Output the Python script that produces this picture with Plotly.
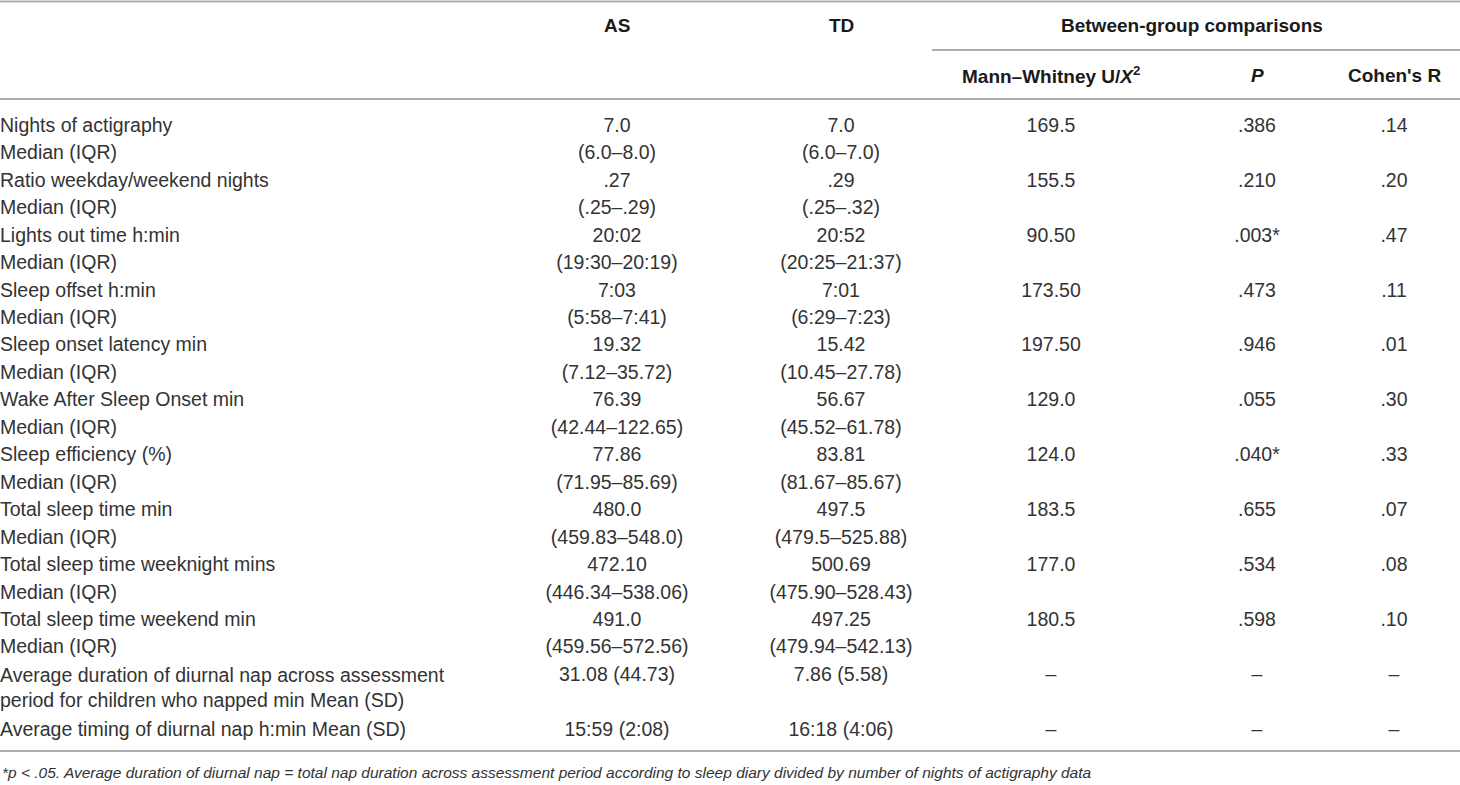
import plotly.graph_objects as go

# --- table content ---
row_labels = [
    "Nights of actigraphy", "Ratio weekday/weekend nights", "Lights out time h:min",
    "Sleep offset h:min", "Sleep onset latency min", "Wake After Sleep Onset min",
    "Sleep efficiency (%)", "Total sleep time min", "Total sleep time weeknight mins",
    "Total sleep time weekend min",
]
as_median = ["7.0", ".27", "20:02", "7:03", "19.32", "76.39", "77.86", "480.0", "472.10", "491.0"]
as_iqr = ["(6.0–8.0)", "(.25–.29)", "(19:30–20:19)", "(5:58–7:41)", "(7.12–35.72)",
          "(42.44–122.65)", "(71.95–85.69)", "(459.83–548.0)", "(446.34–538.06)", "(459.56–572.56)"]
td_median = ["7.0", ".29", "20:52", "7:01", "15.42", "56.67", "83.81", "497.5", "500.69", "497.25"]
td_iqr = ["(6.0–7.0)", "(.25–.32)", "(20:25–21:37)", "(6:29–7:23)", "(10.45–27.78)",
          "(45.52–61.78)", "(81.67–85.67)", "(479.5–525.88)", "(475.90–528.43)", "(479.94–542.13)"]
mw_u = ["169.5", "155.5", "90.50", "173.50", "197.50", "129.0", "124.0", "183.5", "177.0", "180.5"]
p_vals = [".386", ".210", ".003*", ".473", ".946", ".055", ".040*", ".655", ".534", ".598"]
cohen_r = [".14", ".20", ".47", ".11", ".01", ".30", ".33", ".07", ".08", ".10"]

nap_labels = ["Average duration of diurnal nap across assessment<br>period for children who napped min Mean (SD)",
              "Average timing of diurnal nap h:min Mean (SD)"]
nap_as = ["31.08 (44.73)", "15:59 (2:08)"]
nap_td = ["7.86 (5.58)", "16:18 (4:06)"]
nap_stats = ["–", "–"]

headers = ["AS", "TD"]
sub_headers = ["Mann–Whitney U/<i>X</i><sup>2</sup>", "<i>P</i>", "Cohen's R"]
group_header = "Between-group comparisons"
footnote = ("<i>*p < .05. Average duration of diurnal nap = total nap duration across assessment "
            "period according to sleep diary divided by number of nights of actigraphy data</i>")

# --- layout constants (pixels) ---
W, H = 1460, 785
x_as, x_td, x_mw, x_p, x_r = 617, 841, 1051, 1257, 1394
y0, dy = 127, 27.45
txt_col = "#333333"
line_col = "#adadad"
font = "Liberation Sans"
fs = 19.5

# build the text lines (label row + "Median (IQR)" row per measure)
lab, ys_lab = [], []
c_as, c_td, ys_val = [], [], []
c_mw, c_p, c_r, ys_stat = [], [], [], []
for i in range(len(row_labels)):
    ya, yb = y0 + dy * 2 * i, y0 + dy * (2 * i + 1)
    lab += [row_labels[i], "Median (IQR)"]
    ys_lab += [ya, yb]
    c_as += [as_median[i], as_iqr[i]]
    c_td += [td_median[i], td_iqr[i]]
    ys_val += [ya, yb]
    c_mw.append(mw_u[i])
    c_p.append(p_vals[i])
    c_r.append(cohen_r[i])
    ys_stat.append(ya)

fig = go.Figure()


def col(x, texts, y, pos="middle center"):
    fig.add_trace(go.Scatter(
        x=[x] * len(texts), y=y, text=texts, mode="text", textposition=pos,
        textfont=dict(family=font, size=fs, color=txt_col), hoverinfo="skip", showlegend=False))


col(0, lab, ys_lab, "middle right")
col(x_as, c_as, ys_val)
col(x_td, c_td, ys_val)
col(x_mw, c_mw, ys_stat)
col(x_p, c_p, ys_stat)
col(x_r, c_r, ys_stat)

# nap rows
n = 2 * len(row_labels)
y_nap1 = y0 + dy * n
y_nap2 = y0 + dy * (n + 2)
col(0, [nap_labels[0]], [y_nap1 + dy / 2], "middle right")
col(0, [nap_labels[1]], [y_nap2], "middle right")
for x, c in [(x_as, nap_as), (x_td, nap_td), (x_mw, nap_stats), (x_p, nap_stats), (x_r, nap_stats)]:
    col(x, c, [y_nap1, y_nap2])

# headers
hfont = dict(family=font, size=19, color="#1a1a1a")
for x, t in zip([x_as, x_td], headers):
    fig.add_annotation(x=x, y=25, text="<b>" + t + "</b>", showarrow=False, font=hfont)
fig.add_annotation(x=1192, y=25, text="<b>" + group_header + "</b>", showarrow=False, font=hfont)
for x, t in zip([x_mw, x_p, x_r], sub_headers):
    fig.add_annotation(x=x, y=75, text="<b>" + t + "</b>", showarrow=False, font=hfont)

fig.add_annotation(x=0, y=772, text=footnote, showarrow=False, xanchor="left",
                   font=dict(family=font, size=15.5, color=txt_col))

# rules
for ya, xa in [(1.5, 0), (99, 0), (751, 0), (50, 932)]:
    fig.add_shape(type="line", x0=xa, x1=W, y0=ya, y1=ya, line=dict(color=line_col, width=2))

fig.update_layout(
    width=W, height=H, margin=dict(l=0, r=0, t=0, b=0),
    plot_bgcolor="white", paper_bgcolor="white",
    xaxis=dict(range=[0, W], visible=False, fixedrange=True),
    yaxis=dict(range=[H, 0], visible=False, fixedrange=True),
)
fig.write_html("out.html", config={"displayModeBar": False},
               post_script="document.body.style.margin='0';")
